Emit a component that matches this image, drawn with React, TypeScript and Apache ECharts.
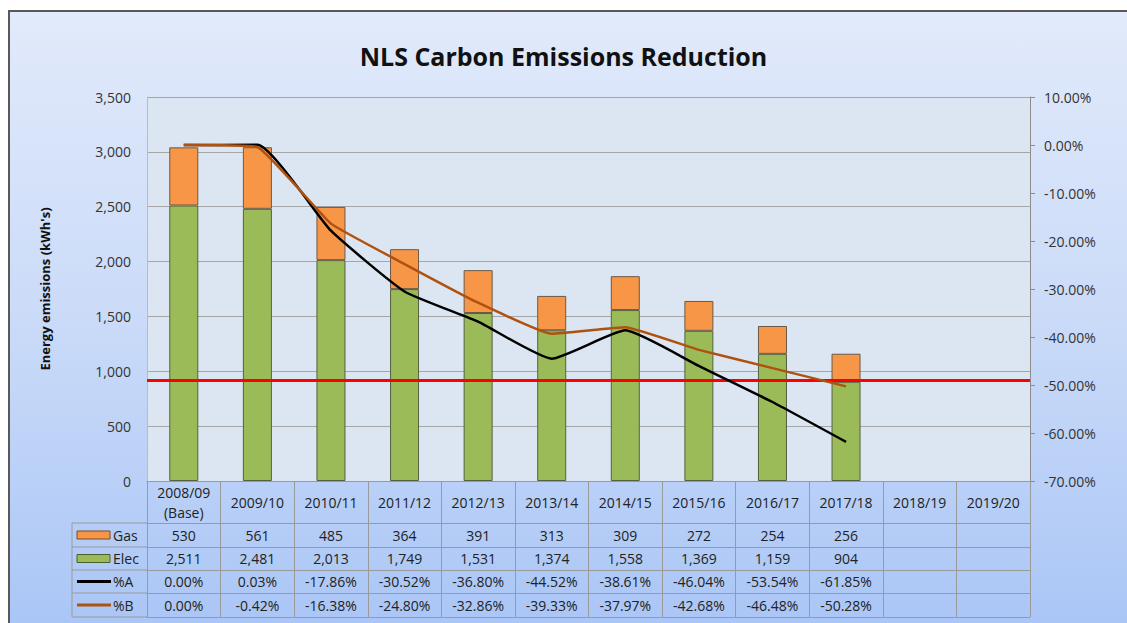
import React, { useEffect, useRef } from "react";
import * as echarts from "echarts";

const categories = ["2008/09\n(Base)", "2009/10", "2010/11", "2011/12", "2012/13", "2013/14", "2014/15", "2015/16", "2016/17", "2017/18", "2018/19", "2019/20"];
const gas = [530, 561, 485, 364, 391, 313, 309, 272, 254, 256];
const elec = [2511, 2481, 2013, 1749, 1531, 1374, 1558, 1369, 1159, 904];
const pctA = [0.0, 0.03, -17.86, -30.52, -36.8, -44.52, -38.61, -46.04, -53.54, -61.85];
const pctB = [0.0, -0.42, -16.38, -24.8, -32.86, -39.33, -37.97, -42.68, -46.48, -50.28];
const targetLevel = 920;
const rowNames = ["Gas", "Elec", "%A", "%B"];

const FONT = "'Open Sans', Lato, sans-serif";
const W = 1127;
const H = 623;
const GL = 147;
const GR = 97;
const GT = 97;
const GB = 142;
const AXIS_Y = H - GB;
const rowOffsets = [42, 66, 89, 112, 136];
const FS = 14;

const fmtNum = (v) => (v == null ? "" : v.toLocaleString("en-US"));
const fmtPct = (v) => (v == null ? "" : v.toFixed(2) + "%");
const pad = (arr, f) => categories.map((_, i) => f(arr[i]));

export default function App() {
  const ref = useRef(null);
  useEffect(() => {
    const chart = echarts.init(ref.current, null, { renderer: "svg", width: W, height: H });
    const gridColor = "#9a9a9a";
    const rows = [pad(gas, fmtNum), pad(elec, fmtNum), pad(pctA, fmtPct), pad(pctB, fmtPct)];
    const tableAxes = rows.map((r, i) => ({
      type: "category",
      gridIndex: 0,
      position: "bottom",
      offset: rowOffsets[i],
      data: r,
      axisLine: { show: true, onZero: false, lineStyle: { color: gridColor, width: 1 } },
      axisTick: { show: true, length: rowOffsets[i + 1] - rowOffsets[i], lineStyle: { color: gridColor } },
      axisLabel: {
        margin: (rowOffsets[i + 1] - rowOffsets[i]) / 2,
        verticalAlign: "middle",
        fontSize: FS,
        color: "#222",
        fontFamily: FONT,
        interval: 0,
      },
      splitLine: { show: false },
    }));
    const bottomAxis = {
      type: "category",
      gridIndex: 0,
      position: "bottom",
      offset: rowOffsets[4],
      data: categories.map(() => ""),
      axisLine: { show: true, onZero: false, lineStyle: { color: gridColor } },
      axisTick: { show: false },
      axisLabel: { show: false },
    };

    const legendX0 = 72;
    const graphics = [];
    rowOffsets.forEach((o) => {
      graphics.push({
        type: "line",
        shape: { x1: legendX0, y1: AXIS_Y + o, x2: GL, y2: AXIS_Y + o },
        style: { stroke: gridColor, lineWidth: 1 },
      });
    });
    graphics.push({
      type: "line",
      shape: { x1: legendX0, y1: AXIS_Y + rowOffsets[0], x2: legendX0, y2: AXIS_Y + rowOffsets[4] },
      style: { stroke: gridColor, lineWidth: 1 },
    });
    const swatches = [
      { kind: "rect", fill: "#f79646", stroke: "#7a4a22" },
      { kind: "rect", fill: "#9bbb59", stroke: "#4d5e2c" },
      { kind: "line", stroke: "#000000" },
      { kind: "line", stroke: "#b0520f" },
    ];
    rowNames.forEach((name, i) => {
      const cy = AXIS_Y + (rowOffsets[i] + rowOffsets[i + 1]) / 2;
      const s = swatches[i];
      if (s.kind === "rect") {
        graphics.push({
          type: "rect",
          shape: { x: 77, y: cy - 4, width: 33, height: 8 },
          style: { fill: s.fill, stroke: s.stroke, lineWidth: 1 },
        });
      } else {
        graphics.push({
          type: "line",
          shape: { x1: 77, y1: cy, x2: 111, y2: cy },
          style: { stroke: s.stroke, lineWidth: 3 },
        });
      }
      graphics.push({
        type: "text",
        x: 113,
        y: cy,
        style: { text: name, fontSize: FS, fontFamily: FONT, fill: "#222", verticalAlign: "middle" },
      });
    });

    chart.setOption({
      animation: false,
      backgroundColor: "transparent",
      title: {
        text: "NLS Carbon Emissions Reduction",
        left: "center",
        top: 38,
        textStyle: { fontSize: 25, fontWeight: "bold", color: "#111", fontFamily: FONT },
      },
      grid: {
        left: GL,
        right: GR,
        top: GT,
        bottom: GB,
        show: true,
        backgroundColor: "#dce6f2",
        borderWidth: 0,
        containLabel: false,
      },
      xAxis: [
        {
          type: "category",
          gridIndex: 0,
          position: "bottom",
          data: categories,
          axisLine: { show: true, onZero: false, lineStyle: { color: gridColor } },
          axisTick: { show: true, length: rowOffsets[0], lineStyle: { color: gridColor } },
          axisLabel: {
            margin: rowOffsets[0] / 2,
            verticalAlign: "middle",
            fontSize: FS,
            lineHeight: 20,
            color: "#222",
            fontFamily: FONT,
            interval: 0,
          },
        },
        ...tableAxes,
        bottomAxis,
      ],
      yAxis: [
        {
          type: "value",
          min: 0,
          max: 3500,
          interval: 500,
          name: "Energy emissions (kWh's)",
          nameLocation: "middle",
          nameGap: 96,
          nameRotate: 90,
          nameTextStyle: { fontSize: 13, fontWeight: "bold", color: "#111", fontFamily: FONT },
          axisLine: { show: true, onZero: false, lineStyle: { color: "#b4bccb" } },
          axisTick: { show: false },
          axisLabel: {
            fontSize: FS,
            color: "#333",
            fontFamily: FONT,
            margin: 16,
            formatter: (v) => v.toLocaleString("en-US"),
          },
          splitLine: { show: true, lineStyle: { color: "#a6a6a6", width: 1 } },
        },
        {
          type: "value",
          position: "right",
          min: -70,
          max: 10,
          interval: 10,
          axisLine: { show: true, onZero: false, lineStyle: { color: "#8c8c8c" } },
          axisTick: { show: true, length: 5, lineStyle: { color: "#8c8c8c" } },
          axisLabel: {
            fontSize: FS,
            color: "#333",
            fontFamily: FONT,
            margin: 14,
            formatter: (v) => v.toFixed(2) + "%",
          },
          splitLine: { show: false },
        },
      ],
      series: [
        {
          name: "Elec",
          type: "bar",
          stack: "total",
          barWidth: 29,
          data: elec,
          itemStyle: { color: "#9bbb59", borderColor: "#55603f", borderWidth: 1 },
          markLine: {
            silent: true,
            symbol: "none",
            label: { show: false },
            lineStyle: { color: "#ff0000", width: 3, type: "solid" },
            data: [{ yAxis: targetLevel }],
          },
        },
        {
          name: "Gas",
          type: "bar",
          stack: "total",
          barWidth: 29,
          data: gas,
          itemStyle: { color: "#f79646", borderColor: "#6b5846", borderWidth: 1 },
        },
        {
          name: "%A",
          type: "line",
          yAxisIndex: 1,
          data: pctA,
          smooth: 0.15,
          symbol: "none",
          lineStyle: { color: "#000000", width: 2.5 },
          z: 5,
        },
        {
          name: "%B",
          type: "line",
          yAxisIndex: 1,
          data: pctB,
          smooth: 0.1,
          symbol: "none",
          lineStyle: { color: "#b0520f", width: 2.5 },
          z: 5,
        },
      ],
      graphic: graphics,
    });
    return () => chart.dispose();
  }, []);

  return (
    <div style={{ position: "fixed", left: 0, top: 0, width: W, height: H, background: "#ffffff", overflow: "hidden" }}>
      <div
        style={{
          position: "absolute",
          left: 8,
          top: 10,
          width: W + 20,
          height: H + 20,
          border: "2px solid #595959",
          background: "linear-gradient(to bottom, #e2eafb 0%, #c9daf8 50%, #a7c4f6 100%)",
        }}
      />
      <div ref={ref} style={{ position: "absolute", left: 0, top: 0, width: W, height: H }} />
    </div>
  );
}
